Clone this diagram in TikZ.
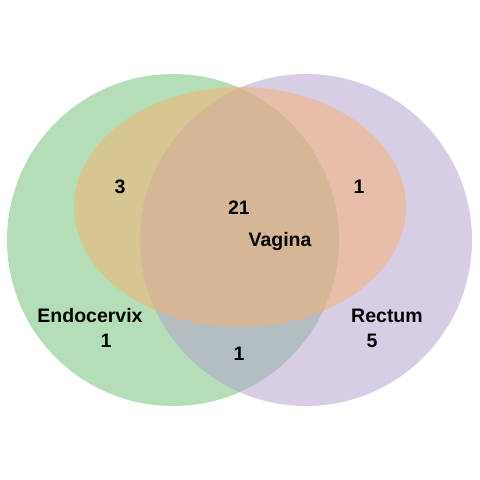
\documentclass[tikz,border=0pt]{standalone}
\usepackage{fontspec}
\setmainfont{Liberation Sans}
\usepackage{tikz}
\definecolor{setgreen}{RGB}{107,191,113}
\definecolor{setpurple}{RGB}{177,159,205}
\definecolor{setorange}{RGB}{248,176,110}
\tikzset{
  vset/.style={fill opacity=0.5,draw=none},
  vlab/.style={font=\fontsize{19.5}{23}\selectfont\bfseries,inner sep=0pt,text=black},
}

\begin{document}
\begin{tikzpicture}[x=1pt,y=-1pt]
  \useasboundingbox[fill=white] (0,0) rectangle (480,480);
  % the three sets
  \fill[vset,setgreen] (173,240) circle (166);
  \fill[vset,setpurple] (306,240) circle (166);
  \fill[vset,setorange] (240,207) ellipse (166 and 120);
  % counts and names
  \node[vlab] (n3) at (120,187) {3};
  \node[vlab] (n21) at (239,208) {21};
  \node[vlab] (n1r) at (359,187) {1};
  \node[vlab] (vag) at (280,241) {Vagina};
  \node[vlab] (endo) at (90,316) {Endocervix};
  \node[vlab] (n1l) at (106,341) {1};
  \node[vlab] (n1m) at (239,354) {1};
  \node[vlab] (rect) at (387,316) {Rectum};
  \node[vlab] (n5) at (372,341) {5};
\end{tikzpicture}
\end{document}
